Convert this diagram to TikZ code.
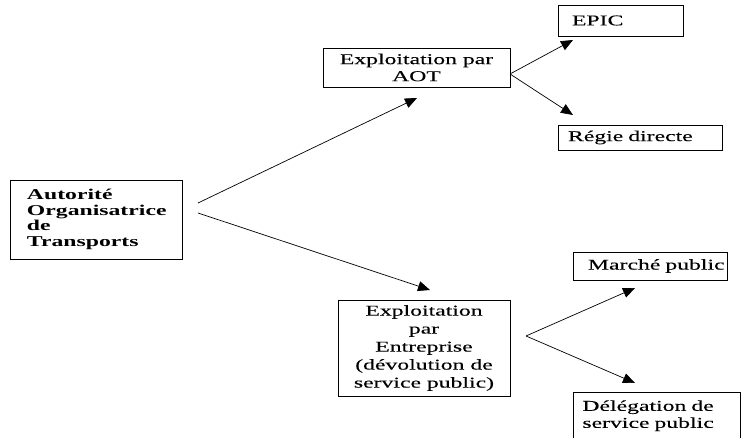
\documentclass[tikz,border=0pt]{standalone}
\usepackage{fontspec}
\setmainfont{Liberation Serif}[FakeStretch=1.58, UprightFeatures={FakeBold=0.15}]
\usetikzlibrary{arrows.meta}
\begin{document}
\begin{tikzpicture}[x=1pt,y=1pt,
  box/.style={draw, line width=0.8pt, inner xsep=0pt, inner ysep=0pt},
  txt/.style={font=\fontsize{15}{#1}\selectfont},
  arr/.style={-{Triangle[length=12pt,width=10pt]}, line width=0.7pt}]
\clip (0,0) rectangle (755,438);
% boxes (y = 438 - pixel row)
\node[box, txt=15.7, minimum width=172, minimum height=79, text width=172, align=left]
  (aot) at (96,218.5) {\bfseries\leftskip=17pt Autorité\\Organisatrice\\de\\Transports\par};
\node[box, txt=17, minimum width=187, minimum height=39, align=center]
  (expaot) at (416.5,370.5) {Exploitation par\\AOT};
\node[box, txt=17, minimum width=125, minimum height=31, text width=125, align=left]
  (epic) at (620.5,417.5) {\leftskip=14pt EPIC\par};
\node[box, txt=17, minimum width=164, minimum height=25, text width=164, align=left]
  (regie) at (640,300.5) {\leftskip=10pt Régie directe\par};
\node[box, txt=18, minimum width=172, minimum height=96, align=center]
  (expent) at (424,90) {Exploitation\\par\\Entreprise\\(dévolution de\\service public)};
\node[box, txt=17, minimum width=154, minimum height=28, text width=154, align=left]
  (marche) at (650,172) {\leftskip=15pt Marché public\par};
\node[box, txt=17, anchor=north west, text width=167, inner ysep=8pt, align=left]
  (deleg) at (573,46) {\leftskip=9pt Délégation de\\service public\\\mbox{}\par};
% connector end points
\coordinate (a1) at (198,235);
\coordinate (a2) at (198,225);
\coordinate (t1) at (417,340);
\coordinate (t2) at (430,148);
\coordinate (b0) at (510,364);
\coordinate (tc) at (573,398);
\coordinate (td) at (573,323);
\coordinate (e0) at (526,102);
\coordinate (tf) at (635,150);
\coordinate (tg) at (635,55);
\draw[arr] (a1) -- (t1);
\draw[arr] (a2) -- (t2);
\draw[arr] (b0) -- (tc);
\draw[arr] (b0) -- (td);
\draw[arr] (e0) -- (tf);
\draw[arr] (e0) -- (tg);
\end{tikzpicture}
\end{document}
